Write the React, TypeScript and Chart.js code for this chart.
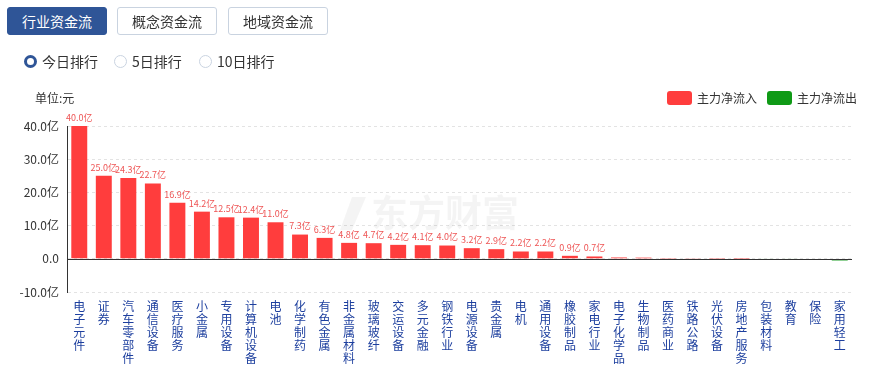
import React, { useEffect, useRef } from "react";
import { Chart, registerables } from "chart.js";

Chart.register(...registerables);

const categories: string[] = [
  "电子元件", "证券", "汽车零部件", "通信设备", "医疗服务", "小金属", "专用设备", "计算机设备",
  "电池", "化学制药", "有色金属", "非金属材料", "玻璃玻纤", "交运设备", "多元金融", "钢铁行业",
  "电源设备", "贵金属", "电机", "通用设备", "橡胶制品", "家电行业", "电子化学品", "生物制品",
  "医药商业", "铁路公路", "光伏设备", "房地产服务", "包装材料", "教育", "保险", "家用轻工",
];

// 主力净流 (亿元)
const netFlow: number[] = [
  40.0, 25.0, 24.3, 22.7, 16.9, 14.2, 12.5, 12.4,
  11.0, 7.3, 6.3, 4.8, 4.7, 4.2, 4.1, 4.0,
  3.2, 2.9, 2.2, 2.2, 0.9, 0.7, 0.4, 0.35,
  0.25, 0.2, 0.05, 0.02, -0.05, -0.05, -0.08, -0.5,
];

const yTicks: number[] = [-10, 0, 10, 20, 30, 40];
const seriesNames: string[] = ["主力净流入", "主力净流出"];
const seriesColors: string[] = ["#ff3d3d", "#0f9a16"];
const tabs: string[] = ["行业资金流", "概念资金流", "地域资金流"];
const radios: string[] = ["今日排行", "5日排行", "10日排行"];

const FONT = '"Noto Sans CJK SC", "Noto Sans", sans-serif';

export default function App() {
  const ref = useRef<HTMLCanvasElement | null>(null);

  useEffect(() => {
    if (!ref.current) return;
    const inflow = netFlow.map((v) => (v >= 0 ? v : null));
    const outflow = netFlow.map((v) => (v < 0 ? v : null));

    const overlay = {
      id: "overlay",
      beforeDatasetsDraw(chart: any) {
        const ctx = chart.ctx;
        ctx.save();
        ctx.fillStyle = "rgba(0,0,0,0.045)";
        ctx.font = `bold 37px ${FONT}`;
        ctx.textBaseline = "middle";
        ctx.textAlign = "left";
        ctx.fillText("东方财富", 371, 213);
        ctx.beginPath();
        ctx.moveTo(352, 197);
        ctx.lineTo(366, 197);
        ctx.lineTo(352, 230);
        ctx.lineTo(340, 230);
        ctx.closePath();
        ctx.fill();
        ctx.restore();
      },
      afterDatasetsDraw(chart: any) {
        const ctx = chart.ctx;
        const { left, right } = chart.chartArea;
        const y0 = chart.scales.y.getPixelForValue(0);
        ctx.save();
        ctx.strokeStyle = "#333";
        ctx.lineWidth = 1;
        ctx.beginPath();
        ctx.moveTo(left, Math.round(y0) + 0.5);
        ctx.lineTo(right, Math.round(y0) + 0.5);
        ctx.stroke();

        ctx.font = `9px ${FONT}`;
        ctx.fillStyle = "#ee5555";
        ctx.textAlign = "center";
        ctx.textBaseline = "bottom";
        const meta = chart.getDatasetMeta(0);
        netFlow.forEach((v, i) => {
          if (v < 0.5) return;
          const el = meta.data[i];
          if (!el) return;
          ctx.fillText(v.toFixed(1) + "亿", el.x, el.y - 4);
        });

        ctx.font = `12px ${FONT}`;
        ctx.fillStyle = "#333";
        ctx.textAlign = "left";
        ctx.textBaseline = "middle";
        ctx.fillText("单位:元", 35, 98);

        const boxes = [667, 767];
        seriesNames.forEach((name, i) => {
          const x = boxes[i];
          ctx.fillStyle = seriesColors[i];
          ctx.beginPath();
          (ctx as any).roundRect(x, 91, 25, 14, 3);
          ctx.fill();
          ctx.fillStyle = "#333";
          ctx.fillText(name, x + 30, 98);
        });
        ctx.restore();
      },
    };

    const chart = new Chart(ref.current, {
      type: "bar",
      data: {
        labels: categories.map((c) => c.split("")),
        datasets: [
          {
            label: seriesNames[0],
            data: inflow as any,
            backgroundColor: seriesColors[0],
            categoryPercentage: 0.65,
            barPercentage: 1,
          },
          {
            label: seriesNames[1],
            data: outflow as any,
            backgroundColor: seriesColors[1],
            categoryPercentage: 0.65,
            barPercentage: 1,
          },
        ],
      },
      options: {
        responsive: false,
        animation: false,
        layout: { padding: { top: 126, right: 19, left: 0, bottom: 0 } },
        plugins: {
          legend: { display: false },
          tooltip: { enabled: false },
          title: { display: false },
        },
        scales: {
          x: {
            stacked: true,
            grid: { display: false, drawTicks: false },
            border: { display: false },
            ticks: {
              autoSkip: false,
              maxRotation: 0,
              minRotation: 0,
              padding: 8,
              color: "#1d3f9e",
              font: { family: FONT, size: 12, lineHeight: 1.08 },
            },
            afterFit(scale: any) {
              scale.height = 74;
            },
          },
          y: {
            stacked: false,
            min: -10,
            max: 40,
            afterBuildTicks(scale: any) {
              scale.ticks = yTicks.map((v) => ({ value: v }));
            },
            grid: {
              color: "#e3e3e3",
              drawTicks: false,
            },
            border: { display: true, color: "#333", dash: [3, 3] },
            ticks: {
              padding: 8,
              color: "#333",
              font: { family: FONT, size: 12 },
              callback: (v: any) => (Number(v) === 0 ? "0.0" : Number(v).toFixed(1) + "亿"),
            },
            afterFit(scale: any) {
              scale.width = 67;
            },
          },
        },
      },
      plugins: [overlay],
    });
    return () => chart.destroy();
  }, []);

  const tabStyle = (active: boolean): React.CSSProperties => ({
    position: "absolute",
    top: 7,
    width: 100,
    height: 28,
    boxSizing: "border-box",
    borderRadius: 3,
    border: active ? "1px solid #2f5597" : "1px solid #c9d3e0",
    background: active ? "#2f5597" : "#fff",
    color: active ? "#fff" : "#333",
    fontSize: 14,
    lineHeight: "26px",
    textAlign: "center",
    fontFamily: FONT,
  });

  return (
    <div style={{ position: "absolute", left: 0, top: 0, width: 871, height: 366, background: "#fff", overflow: "hidden" }}>
      <canvas ref={ref} width={871} height={366} style={{ position: "absolute", left: 0, top: 0 }} />
      {tabs.map((t, i) => (
        <div key={t} style={{ ...tabStyle(i === 0), left: [7, 117, 228][i] }}>
          {t}
        </div>
      ))}
      {radios.map((r, i) => {
        const x = [24, 114, 199][i];
        const active = i === 0;
        return (
          <div key={r} style={{ position: "absolute", left: x, top: 52, height: 18, display: "flex", alignItems: "center", fontFamily: FONT, fontSize: 14, color: "#333" }}>
            <span
              style={{
                display: "inline-block",
                width: active ? 7 : 11,
                height: active ? 7 : 11,
                borderRadius: "50%",
                border: active ? "3px solid #2f5597" : "1px solid #c9d3e0",
                background: "#fff",
                marginRight: 5,
              }}
            />
            <span>{r}</span>
          </div>
        );
      })}
    </div>
  );
}
